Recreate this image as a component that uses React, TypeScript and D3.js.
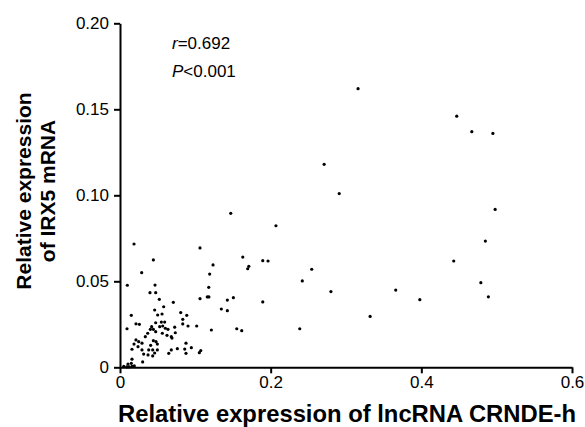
import React, { useEffect, useRef } from "react";
import * as d3 from "d3";

const crndeH = [
  0.316, 0.271, 0.291, 0.147, 0.207, 0.447, 0.467, 0.495, 0.498, 0.485, 0.443, 0.479, 0.489, 0.398,
  0.163, 0.1895, 0.1965, 0.171, 0.1695, 0.2545, 0.242, 0.28, 0.366, 0.1505, 0.1895, 0.332, 0.155, 0.1616, 0.2386,
  0.1062, 0.1235, 0.119, 0.1178, 0.0708, 0.1062, 0.1159, 0.118, 0.1425,
  0.0186, 0.0443, 0.0288, 0.0097, 0.0465, 0.0398, 0.0474, 0.0522,
  0.0806, 0.0886, 0.0833, 0.0833, 0.0903, 0.1018, 0.0726, 0.0637, 0.0734, 0.0681, 0.069, 0.1213, 0.1345, 0.1425,
  0.0876, 0.0947, 0.0859, 0.0761, 0.0681, 0.0647, 0.0876, 0.1053, 0.1072,
  0.058, 0.046, 0.05, 0.0558, 0.015, 0.0093, 0.0212, 0.0257, 0.0474, 0.0549, 0.0593, 0.042, 0.0443, 0.0403,
  0.0527, 0.0567, 0.0602, 0.0474, 0.0368, 0.0336, 0.0562, 0.0624, 0.0212, 0.0248, 0.0186, 0.0292, 0.0239,
  0.0443, 0.0478, 0.0407, 0.0496, 0.0381, 0.0434, 0.0496, 0.046, 0.0292, 0.0159, 0.0314, 0.0372, 0.0434,
  0.0301, 0.0159, 0.0106, 0.015, 0.005, 0.009, 0.012, 0.016, 0.019,
];

const irx5 = [
  0.162, 0.118, 0.101, 0.0895, 0.0823, 0.146, 0.137, 0.136, 0.0918, 0.0734, 0.0618, 0.0492, 0.041, 0.0393,
  0.0641, 0.062, 0.0618, 0.0587, 0.0573, 0.057, 0.0502, 0.044, 0.0449, 0.0405, 0.038, 0.0296, 0.0224, 0.0213, 0.0224,
  0.0694, 0.0595, 0.0542, 0.0465, 0.0378, 0.0399, 0.0409, 0.0409, 0.0391,
  0.0717, 0.0624, 0.055, 0.0477, 0.0478, 0.0434, 0.0434, 0.0395,
  0.0318, 0.0302, 0.0279, 0.0252, 0.024, 0.024, 0.0233, 0.0221, 0.0201, 0.0178, 0.017, 0.0217, 0.0339, 0.0329,
  0.014, 0.0114, 0.0106, 0.0108, 0.0101, 0.0081, 0.0081, 0.0085, 0.0097,
  0.0352, 0.0333, 0.0304, 0.031, 0.0302, 0.0224, 0.0253, 0.025, 0.0259, 0.0263, 0.0263, 0.0236, 0.0221, 0.0221,
  0.0236, 0.024, 0.0227, 0.0207, 0.0198, 0.0178, 0.0198, 0.0186, 0.0159, 0.0149, 0.0135, 0.014, 0.012,
  0.0155, 0.0149, 0.0128, 0.0135, 0.0101, 0.0101, 0.0101, 0.0083, 0.0101, 0.0105, 0.0077, 0.0072, 0.0066,
  0.0031, 0.0047, 0.0019, 0.0023, 0.0005, 0.0002, 0.0003, 0.0006, 0.0008,
];

const xTicks = [0, 0.2, 0.4, 0.6];
const yTicks = [0, 0.05, 0.1, 0.15, 0.2];
const xTitle = "Relative expression of lncRNA CRNDE-h";
const yTitleLines = ["Relative expression", "of IRX5 mRNA"];
const rText = "0.692";
const pText = "0.001";

const W = 585;
const H = 427;
const FONT = "'Liberation Sans', Arial, Helvetica, sans-serif";

export default function App() {
  const gx = useRef<SVGGElement>(null);
  const gy = useRef<SVGGElement>(null);

  const x = d3.scaleLinear().domain([0, 0.6]).range([120, 572]);
  const y = d3.scaleLinear().domain([0, 0.2]).range([367.3, 23.3]);

  useEffect(() => {
    const ax = d3
      .axisBottom(x)
      .tickValues(xTicks)
      .tickSize(6)
      .tickPadding(3)
      .tickSizeOuter(0)
      .tickFormat((d: any) => (d === 0 ? "0" : d3.format(".1f")(d)));
    const ay = d3
      .axisLeft(y)
      .tickValues(yTicks)
      .tickSize(6)
      .tickPadding(5)
      .tickSizeOuter(0)
      .tickFormat((d: any) => (d === 0 ? "0" : d3.format(".2f")(d)));
    const sx = d3.select(gx.current!);
    sx.call(ax as any);
    const sy = d3.select(gy.current!);
    sy.call(ay as any);
    [sx, sy].forEach((s) => {
      s.selectAll("path").attr("stroke", "#000").attr("stroke-width", 2);
      s.selectAll("line").attr("stroke", "#000").attr("stroke-width", 2);
      s.selectAll("text")
        .attr("font-family", FONT)
        .attr("font-size", 17)
        .attr("fill", "#000");
      s.attr("font-family", null).attr("font-size", null);
    });
  }, []);

  return (
    <svg
      width={W}
      height={H}
      style={{ position: "absolute", left: 0, top: 0, background: "#fff" }}
    >
      <rect x={0} y={0} width={W} height={H} fill="#fff" />
      {crndeH.map((v, i) => (
        <circle key={i} cx={x(v)} cy={y(irx5[i])} r={1.6} fill="#000" />
      ))}
      <g ref={gx} transform={`translate(0,${y(0)})`} />
      <g ref={gy} transform={`translate(${x(0)},0)`} />
      <text x={172} y={49} fontFamily={FONT} fontSize={17} fill="#000">
        <tspan fontStyle="italic">r</tspan>={rText}
      </text>
      <text x={172} y={77} fontFamily={FONT} fontSize={17} fill="#000">
        <tspan fontStyle="italic">P</tspan>&lt;{pText}
      </text>
      <text
        x={347}
        y={422}
        textAnchor="middle"
        fontFamily={FONT}
        fontSize={23.8}
        fontWeight="bold"
        fill="#000"
      >
        {xTitle}
      </text>
      {yTitleLines.map((t, i) => (
        <text
          key={i}
          transform={`translate(${31 + i * 23.5},191) rotate(-90)`}
          textAnchor="middle"
          fontFamily={FONT}
          fontSize={21}
          fontWeight="bold"
          fill="#000"
        >
          {t}
        </text>
      ))}
    </svg>
  );
}
